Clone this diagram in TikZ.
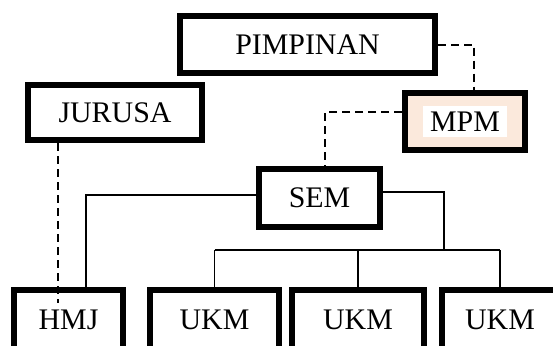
\documentclass[tikz,border=0pt]{standalone}
\usepackage{fontspec}
\setmainfont{Liberation Serif}
\definecolor{peach}{HTML}{FBE9DC}

\tikzstyle{unit}=[rectangle,draw=black,line width=6bp,fill=white,inner sep=0pt,font=\fontsize{30}{32}\selectfont]
\tikzstyle{dash edge} = [draw,line width=2bp,dash pattern=on 8bp off 5bp]
\tikzstyle{tree edge} = [draw,line width=1.7bp,-]

\begin{document}
\begin{tikzpicture}[x=1bp,y=-1bp]
			\useasboundingbox (0,0) rectangle (553,345);
			\clip (0,0) rectangle (553,345);
			\node[unit,minimum width=255bp,minimum height=57bp] (pimpinan) at (307.5,44.5) {PIMPINAN};
			\node[unit,minimum width=174bp,minimum height=55bp] (jurusa) at (115,112.5) {JURUSA};
			\node[unit,fill=peach,minimum width=120bp,minimum height=57bp] (mpm) at (465,121.5) {};
			\node[fill=white,inner sep=0pt,minimum width=84bp,minimum height=31bp,font=\fontsize{30}{32}\selectfont] (mpm label) at (465,121.5) {MPM};
			\node[unit,minimum width=121bp,minimum height=58bp] (sem) at (319.5,198) {SEM};
			\node[unit,minimum width=109bp,minimum height=60bp] (hmj) at (68.5,320) {HMJ};
			\node[unit,minimum width=129bp,minimum height=60bp] (ukm1) at (214.5,320) {UKM};
			\node[unit,minimum width=132bp,minimum height=60bp] (ukm2) at (358,320) {UKM};
			\node[unit,minimum width=116bp,minimum height=60bp] (ukm3) at (500,320) {UKM};
			% dashed lines first
			\coordinate (jdash) at (58,303);
			\path[dash edge] (pimpinan.east) -| ([xshift=9bp]mpm.north);
			\path[dash edge] ([yshift=9.5bp]mpm.west) -| ([xshift=5.5bp]sem.north);
			\path[dash edge] (jurusa.south -| jdash) -- (jdash);
			% then the tree below SEM
			\coordinate (bus) at (444,250);
			\path[tree edge] ([yshift=3bp]sem.west) -| ([xshift=17.5bp]hmj.north);
			\path[tree edge] ([yshift=6bp]sem.east) -| (bus);
			\path[tree edge] (ukm1.north |- bus) -- (ukm3.north |- bus);
			\foreach \dest in {ukm1,ukm2,ukm3}
				\path[tree edge] (\dest.north |- bus) -- (\dest.north);
		\end{tikzpicture}
\end{document}
